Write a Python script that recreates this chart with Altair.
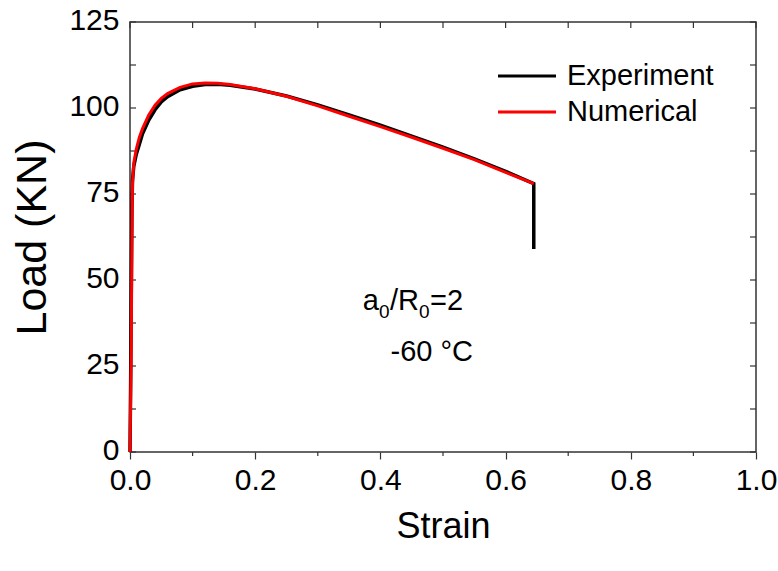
import altair as alt
import pandas as pd

# ---------------- data ----------------
exp_strain = [0, 0.001, 0.002, 0.003, 0.004, 0.006, 0.01, 0.015, 0.02, 0.03, 0.04, 0.05, 0.06,
              0.08, 0.10, 0.12, 0.14, 0.16, 0.20, 0.25, 0.30, 0.35, 0.40, 0.45, 0.50, 0.55,
              0.60, 0.645, 0.645]
exp_load = [0, 20, 45, 70, 79, 83, 86.5, 89.5, 92.5, 96.5, 99.5, 101.8, 103.3,
            105.3, 106.3, 106.8, 106.9, 106.6, 105.5, 103.5, 100.9, 98.0, 95.0, 91.8, 88.6, 85.2,
            81.6, 78.0, 59.0]

num_strain = [0, 0.002, 0.003, 0.004, 0.006, 0.01, 0.015, 0.02, 0.03, 0.04, 0.05, 0.06,
              0.08, 0.10, 0.12, 0.14, 0.16, 0.20, 0.25, 0.30, 0.35, 0.40, 0.45, 0.50, 0.55,
              0.60, 0.645]
num_load = [0, 30, 60, 78, 84, 88, 91.5, 94, 98, 100.8, 102.8, 104.2,
            106, 107, 107.3, 107.2, 106.8, 105.6, 103.4, 100.6, 97.6, 94.6, 91.5, 88.3, 85,
            81.3, 78]

series_names = ["Experiment", "Numerical"]
series_colors = ["#000000", "#ff0000"]

x_major = [0.0, 0.2, 0.4, 0.6, 0.8, 1.0]
x_minor = [0.1, 0.3, 0.5, 0.7, 0.9]
y_major = [0, 25, 50, 75, 100, 125]
y_minor = [12.5, 37.5, 62.5, 87.5, 112.5]

# annotation "a0/R0=2" (0 as subscript) and "-60 °C"
annot1_parts = ["a", "0", "/R", "0", "=2"]
annot1_sub = [False, True, False, True, False]
annot1_x = 0.372
annot1_y = 44.2
annot2_text = "-60 \u00b0C"
annot2_x = 0.482
annot2_y = 29

W, H = 626, 430
FONT = "Liberation Sans"
FS_TICK = 30
FS_XTITLE = 36
FS_YTITLE = 43
FS_TEXT = 29
FS_SUB = 19

exp_df = pd.DataFrame({"strain": exp_strain, "load": exp_load, "series": series_names[0],
                       "order": list(range(len(exp_strain)))})
num_df = pd.DataFrame({"strain": num_strain, "load": num_load, "series": series_names[1],
                       "order": list(range(len(num_strain)))})

xscale = alt.Scale(domain=[0, 1], nice=False, zero=False)
yscale = alt.Scale(domain=[0, 125], nice=False, zero=False)
color = alt.Color("series:N",
                  scale=alt.Scale(domain=series_names, range=series_colors),
                  legend=alt.Legend(title=None, orient="none", legendX=381, legendY=38,
                                    symbolType="M-2,0L2,0", symbolSize=841,
                                    symbolStrokeWidth=3, labelFontSize=FS_TEXT, labelFont=FONT,
                                    labelColor="black", rowPadding=5, labelOffset=24))

xaxis = alt.Axis(values=x_major, format=".1f", title="Strain", labelFontSize=FS_TICK,
                 labelFont=FONT, titleFont=FONT, titleFontSize=FS_XTITLE, titleFontWeight="normal",
                 labelColor="black", titleColor="black", tickSize=7, tickColor="#333",
                 tickWidth=1.2, labelPadding=6, titlePadding=14, domain=False, grid=False,
                 labelFlush=False)
yaxis = alt.Axis(values=y_major, format="d", title="Load (KN)", labelFontSize=FS_TICK,
                 labelFont=FONT, titleFont=FONT, titleFontSize=FS_YTITLE, titleFontWeight="normal",
                 labelColor="black", titleColor="black", ticks=False, labelPadding=11,
                 labelOffset=-2, titlePadding=14, domain=False, grid=False, labelFlush=False)

exp_line = alt.Chart(exp_df).mark_line(strokeWidth=3.5).encode(
    x=alt.X("strain:Q", scale=xscale, axis=xaxis),
    y=alt.Y("load:Q", scale=yscale, axis=yaxis),
    color=color,
    order="order:Q",
)
num_line = alt.Chart(num_df).mark_line(strokeWidth=3).encode(
    x=alt.X("strain:Q", scale=xscale),
    y=alt.Y("load:Q", scale=yscale),
    color=color,
    order="order:Q",
)

# inward ticks on left / right, and top; minor outward ticks on bottom
yt_df = pd.DataFrame({"v": y_major + y_minor})
left_ticks = alt.Chart(yt_df).mark_rule(color="#333", strokeWidth=1.2).encode(
    y=alt.Y("v:Q", scale=yscale), x=alt.value(0), x2=alt.value(6))
right_ticks = alt.Chart(yt_df).mark_rule(color="#333", strokeWidth=1.2).encode(
    y=alt.Y("v:Q", scale=yscale), x=alt.value(W - 6), x2=alt.value(W))
xt_df = pd.DataFrame({"v": x_major + x_minor})
top_ticks = alt.Chart(xt_df).mark_rule(color="#333", strokeWidth=1.2).encode(
    x=alt.X("v:Q", scale=xscale), y=alt.value(0), y2=alt.value(6))
bottom_minor = alt.Chart(pd.DataFrame({"v": x_minor})).mark_rule(color="#333", strokeWidth=1.2).encode(
    x=alt.X("v:Q", scale=xscale), y=alt.value(H), y2=alt.value(H + 4))

# annotation pieces (subscripts as smaller, lowered text)
char_w = {"a": 0.556, "0": 0.556, "/": 0.278, "R": 0.722, "=": 0.584, "2": 0.556}
annot_layers = []
off = 0.0
for part, sub in zip(annot1_parts, annot1_sub):
    fs = FS_SUB if sub else FS_TEXT
    annot_layers.append(
        alt.Chart(pd.DataFrame({"x": [annot1_x], "y": [annot1_y], "t": [part]})).mark_text(
            font=FONT, fontSize=fs, color="black", align="left", baseline="alphabetic",
            dx=off, dy=(18 if sub else 10)).encode(
            x=alt.X("x:Q", scale=xscale), y=alt.Y("y:Q", scale=yscale), text="t:N"))
    off += sum(char_w.get(c, 0.556) for c in part) * fs + (0.5 if sub else 0)

annot2 = alt.Chart(pd.DataFrame({"x": [annot2_x], "y": [annot2_y], "t": [annot2_text]})).mark_text(
    font=FONT, fontSize=FS_TEXT, color="black", align="center", baseline="middle").encode(
    x=alt.X("x:Q", scale=xscale), y=alt.Y("y:Q", scale=yscale), text="t:N")

chart = alt.layer(left_ticks, right_ticks, top_ticks, bottom_minor, exp_line, num_line,
                  *annot_layers, annot2).properties(
    width=W, height=H,
    autosize=alt.AutoSizeParams(type="none"),
    padding={"left": 130, "top": 22, "right": 22, "bottom": 119},
    background="white",
).configure_view(stroke="#333", strokeWidth=1.5)

chart.save("out.html", embed_options={"renderer": "svg", "actions": False})
